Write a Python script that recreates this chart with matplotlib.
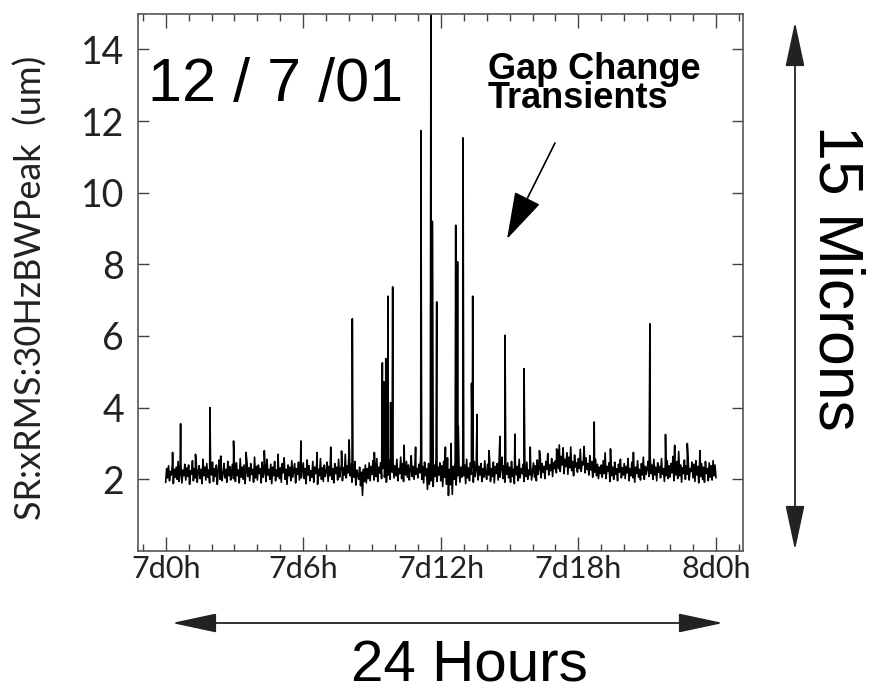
import numpy as np
import matplotlib
matplotlib.use("Agg")
from matplotlib import pyplot as plt
from matplotlib.ticker import MultipleLocator

# background noise, 24 samples per hour (hour 0 .. 23), then the final sample at 24h
noise_rows = [
    [1.92, 2.30, 2.04, 2.38, 1.96, 2.22, 2.12, 2.44, 1.88, 2.28, 2.06, 2.34, 2.00, 2.50, 1.94, 2.20, 2.36, 1.90, 2.26, 2.10, 2.42, 1.98, 2.32, 2.08],
    [2.40, 1.86, 2.24, 2.14, 2.52, 1.96, 2.30, 2.04, 2.46, 1.92, 2.20, 2.38, 2.02, 2.28, 1.88, 2.56, 2.10, 2.34, 1.98, 2.44, 2.06, 2.26, 1.90, 2.36],
    [2.12, 2.48, 1.94, 2.30, 2.08, 2.40, 1.86, 2.24, 2.54, 2.00, 2.32, 1.96, 2.18, 2.44, 2.04, 2.28, 1.92, 2.50, 2.10, 2.36, 1.98, 2.22, 2.42, 2.02],
    [2.30, 1.94, 2.46, 2.10, 2.26, 1.90, 2.58, 2.06, 2.34, 2.00, 2.40, 1.88, 2.22, 2.52, 2.08, 2.32, 1.96, 2.44, 2.14, 2.28, 1.92, 2.62, 2.04, 2.36],
    [1.98, 2.40, 2.16, 2.30, 1.90, 2.48, 2.06, 2.24, 2.36, 1.94, 2.56, 2.12, 2.28, 2.00, 2.42, 1.88, 2.34, 2.10, 2.50, 1.96, 2.26, 2.08, 2.38, 2.02],
    [2.32, 1.92, 2.44, 2.18, 2.60, 2.00, 2.28, 1.86, 2.40, 2.10, 2.34, 1.96, 2.52, 2.06, 2.24, 2.44, 1.90, 2.30, 2.14, 2.48, 1.98, 2.36, 2.04, 2.26],
    [2.46, 2.02, 2.30, 1.88, 2.54, 2.12, 2.38, 1.96, 2.24, 2.06, 2.50, 1.92, 2.34, 2.16, 2.42, 1.86, 2.28, 2.10, 2.58, 2.00, 2.32, 1.94, 2.40, 2.08],
    [2.22, 2.48, 1.94, 2.36, 2.10, 2.64, 2.00, 2.30, 1.90, 2.44, 2.16, 2.34, 1.98, 2.56, 2.06, 2.28, 2.40, 1.96, 2.32, 2.12, 2.70, 2.04, 2.38, 2.18],
    [2.90, 2.10, 2.42, 1.92, 2.30, 2.06, 2.50, 1.84, 2.26, 2.12, 2.00, 2.34, 1.82, 2.20, 1.55, 2.28, 1.94, 2.40, 1.90, 2.30, 2.02, 2.46, 1.96, 2.36],
    [2.14, 2.52, 1.98, 2.40, 2.08, 2.58, 1.94, 2.34, 2.18, 2.46, 2.02, 2.30, 2.60, 2.06, 2.42, 1.92, 2.36, 2.12, 2.54, 2.00, 2.32, 2.20, 2.48, 2.04],
    [2.38, 2.10, 2.56, 1.96, 2.30, 2.16, 2.62, 2.02, 2.44, 1.94, 2.34, 2.12, 2.50, 2.06, 2.40, 1.98, 2.28, 2.66, 2.08, 2.36, 2.00, 2.46, 2.14, 2.30],
    [2.04, 2.42, 2.18, 2.68, 2.00, 2.36, 1.90, 2.48, 2.10, 2.30, 1.72, 2.44, 1.86, 2.52, 1.96, 2.30, 1.80, 2.40, 2.08, 2.56, 1.94, 2.34, 2.12, 2.46],
    [1.96, 2.38, 1.80, 2.50, 2.06, 2.32, 1.86, 2.60, 1.55, 2.28, 1.85, 2.44, 1.58, 2.36, 2.00, 2.52, 1.84, 2.30, 2.10, 2.42, 1.92, 2.34, 2.06, 2.48],
    [2.10, 2.40, 1.88, 2.56, 2.04, 2.32, 1.96, 2.46, 2.14, 2.34, 1.92, 2.50, 2.08, 2.28, 2.62, 1.98, 2.36, 2.12, 2.44, 1.94, 2.30, 2.06, 2.52, 2.16],
    [2.00, 2.42, 2.12, 2.58, 1.94, 2.30, 2.08, 2.48, 1.90, 2.36, 2.16, 2.44, 1.98, 2.54, 2.06, 2.32, 2.62, 2.02, 2.38, 1.92, 2.28, 2.14, 2.46, 2.04],
    [2.34, 1.92, 2.50, 2.08, 2.28, 1.88, 2.44, 2.12, 2.36, 1.96, 2.56, 2.04, 2.30, 2.16, 2.42, 1.94, 2.34, 2.08, 2.48, 2.00, 2.26, 2.12, 2.40, 1.98],
    [2.22, 2.46, 2.06, 2.38, 1.96, 2.54, 2.14, 2.32, 2.66, 2.04, 2.44, 2.20, 2.36, 2.02, 2.50, 2.28, 2.72, 2.12, 2.40, 2.24, 2.58, 2.08, 2.46, 2.30],
    [2.52, 2.18, 2.80, 2.30, 2.96, 2.22, 2.64, 2.40, 2.88, 2.16, 2.56, 2.36, 2.74, 2.14, 2.62, 2.32, 2.90, 2.24, 2.50, 2.10, 2.68, 2.34, 2.46, 2.20],
    [2.58, 2.30, 2.84, 2.22, 2.48, 2.40, 2.92, 2.18, 2.60, 2.28, 2.44, 2.12, 2.66, 2.26, 2.50, 2.06, 2.38, 2.20, 2.56, 2.10, 2.42, 2.02, 2.34, 2.16],
    [2.40, 2.06, 2.52, 2.16, 2.74, 2.02, 2.36, 2.22, 2.46, 1.94, 2.60, 2.10, 2.34, 2.00, 2.48, 2.14, 2.30, 1.96, 2.42, 2.20, 2.56, 2.04, 2.32, 2.12],
    [2.44, 2.02, 2.36, 2.18, 2.58, 1.96, 2.30, 2.10, 2.48, 2.04, 2.40, 1.92, 2.34, 2.16, 2.52, 2.06, 2.28, 1.98, 2.44, 2.12, 2.62, 2.00, 2.36, 2.14],
    [2.30, 2.50, 2.08, 2.70, 2.16, 2.40, 2.00, 2.56, 2.12, 2.34, 1.96, 2.46, 2.20, 2.36, 2.04, 2.58, 2.14, 2.30, 1.94, 2.42, 2.10, 2.52, 2.02, 2.38],
    [2.06, 2.44, 2.18, 2.64, 1.96, 2.36, 2.12, 2.50, 2.02, 2.78, 2.10, 2.40, 1.92, 2.32, 2.16, 2.54, 2.00, 2.38, 2.14, 2.46, 1.98, 2.30, 2.22, 2.48],
    [2.04, 2.42, 1.94, 2.52, 2.12, 2.36, 1.90, 2.56, 2.08, 2.44, 2.00, 2.34, 1.92, 2.50, 2.16, 2.30, 1.96, 2.46, 2.06, 2.38, 1.98, 2.52, 2.10, 2.40],
]
noise_last = 2.05

# transient spikes (hour after 7d0h, peak in um)
spike_hours = [0.30, 0.65, 1.30, 1.93, 2.40, 2.96, 3.50, 4.30, 4.90, 5.90, 6.60,
               7.20, 7.67, 8.00, 8.14, 9.10, 9.45, 9.52, 9.60, 9.70, 9.81, 9.90,
               10.40, 10.90, 11.13, 11.57, 11.63, 11.82, 12.20, 12.45, 12.65, 12.73,
               12.76, 12.97, 13.34, 13.39, 13.58, 14.10, 14.58, 14.80, 15.23, 15.63,
               15.90, 16.30, 17.05, 18.69, 19.40, 20.40, 21.12, 21.80, 22.20, 22.75,
               23.30]
spike_peaks = [2.75, 3.55, 2.70, 4.00, 2.65, 3.07, 2.75, 2.80, 2.70, 3.07, 2.75,
               2.90, 2.79, 3.10, 6.48, 2.75, 5.25, 4.72, 5.37, 7.11, 4.14, 7.37,
               2.95, 2.90, 11.73, 16.0, 9.20, 6.95, 2.90, 3.00, 9.09, 8.07,
               3.49, 11.53, 4.68, 7.11, 3.81, 2.80, 3.20, 6.02, 3.26, 5.09,
               2.90, 2.80, 2.85, 3.60, 2.85, 2.75, 6.34, 3.25, 2.95, 3.00,
               2.80]

tick_hours = [0, 6, 12, 18, 24]
tick_labels = ["7d0h", "7d6h", "7d12h", "7d18h", "8d0h"]
y_ticks = [2, 4, 6, 8, 10, 12, 14]

# merge noise and spikes into one time series
noise = np.append(np.concatenate(noise_rows), noise_last)
t_noise = np.arange(len(noise)) / 24.0
t = np.concatenate([t_noise, spike_hours])
v = np.concatenate([noise, spike_peaks])
order = np.argsort(t, kind="stable")
t, v = t[order], v[order]

thin = ["Lato", "DejaVu Sans"]
ink = "#222222"

fig = plt.figure(figsize=(8.84, 6.97), dpi=100)
ax = fig.add_axes([138 / 884, 1 - 551 / 697, (743 - 138) / 884, (551 - 13.5) / 697])
ax.plot(t, v, color="black", lw=1.2)

ax.set_xlim(-1.208, 25.18)
ax.set_ylim(0, 15)
ax.set_xticks(tick_hours)
ax.set_xticklabels(tick_labels)
ax.xaxis.set_minor_locator(MultipleLocator(1))
ax.set_yticks(y_ticks)
ax.tick_params(axis="both", which="both", direction="in", top=True, right=True,
               color="#444444", width=1.0)
ax.tick_params(axis="x", which="major", length=10, pad=3)
ax.tick_params(axis="x", which="minor", length=5)
ax.tick_params(axis="y", which="major", length=8, pad=10)
for lab in ax.get_xticklabels():
    lab.set_family(thin)
    lab.set_fontsize(22)
    lab.set_color(ink)
for lab in ax.get_yticklabels():
    lab.set_family(thin)
    lab.set_fontsize(27)
    lab.set_color(ink)
for sp in ax.spines.values():
    sp.set_color("#555555")
    sp.set_linewidth(1.2)

fig.text(31 / 884, 1 - 288 / 697, "SR:xRMS:30HzBWPeak  (um)", rotation=90,
         ha="center", va="center", fontsize=26, family=thin, color=ink)

# annotations
ax.text(148 / 884, 1 - 85 / 697, "12 / 7 /01", transform=fig.transFigure,
        ha="left", va="center", fontsize=44, family="Liberation Sans")
ax.text(488 / 884, 1 - 84 / 697, "Gap Change\nTransients", transform=fig.transFigure,
        ha="left", va="center", fontsize=26, family="Liberation Sans",
        fontweight="bold", linespacing=0.8)
ax.annotate("", xy=(507 / 884, 1 - 239 / 697), xytext=(555 / 884, 1 - 143 / 697),
            xycoords="figure fraction", textcoords="figure fraction",
            arrowprops=dict(arrowstyle="-|>,head_length=1.5,head_width=0.45",
                            color="black", lw=1.2, mutation_scale=20,
                            shrinkA=0, shrinkB=0))

# scale arrows
ax.annotate("", xy=(795 / 884, 1 - 22 / 697), xytext=(795 / 884, 1 - 550 / 697),
            xycoords="figure fraction", textcoords="figure fraction",
            arrowprops=dict(arrowstyle="<|-|>,head_length=1.4,head_width=0.3",
                            color="#222222", lw=1.3, mutation_scale=20,
                            shrinkA=0, shrinkB=0))
ax.annotate("", xy=(172 / 884, 1 - 623 / 697), xytext=(723 / 884, 1 - 623 / 697),
            xycoords="figure fraction", textcoords="figure fraction",
            arrowprops=dict(arrowstyle="<|-|>,head_length=1.4,head_width=0.3",
                            color="#222222", lw=1.3, mutation_scale=20,
                            shrinkA=0, shrinkB=0))
fig.text(836 / 884, 1 - 278 / 697, "15 Microns", rotation=-90, ha="center",
         va="center", fontsize=45, family="Liberation Sans")
fig.text(469 / 884, 1 - 682 / 697, "24 Hours", ha="center", va="baseline",
         fontsize=42, family="Liberation Sans")

fig.savefig("out.png", dpi=100)
